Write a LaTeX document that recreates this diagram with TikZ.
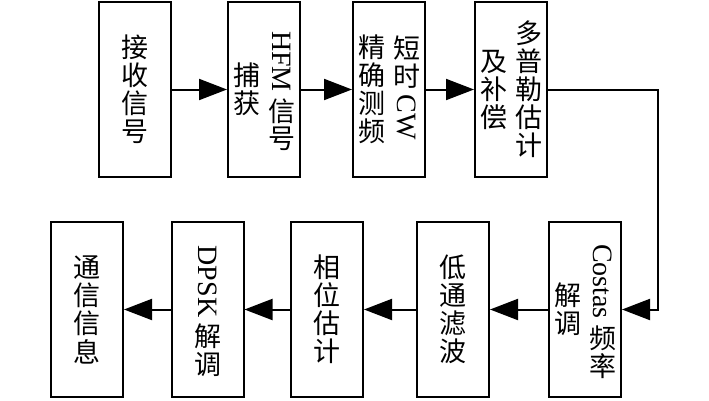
\documentclass[tikz,border=0pt]{standalone}
\usepackage{fontspec}
\usepackage{graphicx}
\setmainfont{Liberation Serif}
\newfontfamily\cjk{Noto Sans CJK SC}
\usetikzlibrary{arrows.meta}

% one character per cell, columns read from right to left
\newcommand{\zi}[1]{\hbox to 28pt{\hss\vbox to 28pt{\vss\hbox{#1}\vss}\hss}}
\newcommand{\yw}[1]{\hbox to 28pt{\hss\vbox{\kern5pt\hbox{\rmfamily\fontsize{28}{30}\selectfont\rotatebox{-90}{#1}}\kern5pt}\hss}}
\newcommand{\lie}[1]{$\vcenter{\offinterlineskip#1}$}
\newcommand{\liang}[2]{\lie{#1}\kern7pt\lie{#2}}

\tikzset{
	kuang/.style={draw, line width=2pt, minimum width=72pt, minimum height=175pt, inner sep=0pt, font={\cjk\fontsize{27}{28}\selectfont}},
	jiantou/.style={line width=2pt, -{Triangle[length=28pt, width=21pt]}}
}

\begin{document}
\begin{tikzpicture}[x=1pt, y=1pt]
	\useasboundingbox (0,0) rectangle (709,400);
	% upper row
	\node[kuang] (jieshou) at (135,310.5) {\lie{\zi{接}\zi{收}\zi{信}\zi{号}}};
	\node[kuang] (buhuo) at (264,310.5) {\liang{\zi{捕}\zi{获}}{\yw{HFM}\zi{信}\zi{号}}};
	\node[kuang] (cepin) at (389,310.5) {\liang{\zi{精}\zi{确}\zi{测}\zi{频}}{\zi{短}\zi{时}\yw{CW}}};
	\node[kuang] (duopule) at (511,310.5) {\liang{\zi{及}\zi{补}\zi{偿}}{\zi{多}\zi{普}\zi{勒}\zi{估}\zi{计}}};
	% lower row, right to left
	\node[kuang] (costas) at (585,90.5) {\liang{\zi{解}\zi{调}}{\yw{Costas}\zi{频}\zi{率}}};
	\node[kuang] (lvbo) at (453,90.5) {\lie{\zi{低}\zi{通}\zi{滤}\zi{波}}};
	\node[kuang] (xiangwei) at (327,90.5) {\lie{\zi{相}\zi{位}\zi{估}\zi{计}}};
	\node[kuang] (dpsk) at (207.5,90.5) {\lie{\yw{DPSK}\zi{解}\zi{调}}};
	\node[kuang] (xinxi) at (87,90.5) {\lie{\zi{通}\zi{信}\zi{信}\zi{息}}};
	\coordinate (guai) at (658,310.5);
	\draw[jiantou] (jieshou.east) -- (buhuo.west);
	\draw[jiantou] (buhuo.east) -- (cepin.west);
	\draw[jiantou] (cepin.east) -- (duopule.west);
	\draw[jiantou] (duopule.east) -- (guai) |- (costas.east);
	\draw[jiantou] (costas.west) -- (lvbo.east);
	\draw[jiantou] (lvbo.west) -- (xiangwei.east);
	\draw[jiantou] (xiangwei.west) -- (dpsk.east);
	\draw[jiantou] (dpsk.west) -- (xinxi.east);
\end{tikzpicture}
\end{document}
